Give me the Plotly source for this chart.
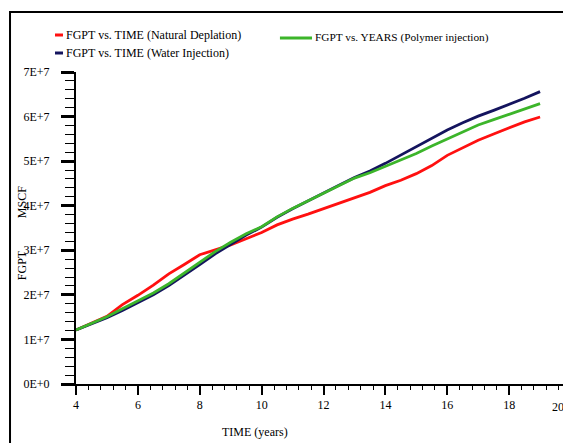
import plotly.graph_objects as go

# ---- data ----
time_years = [4.0, 4.5, 5.0, 5.5, 6.0, 6.5, 7.0, 7.5, 8.0, 8.5, 9.0, 9.5, 10.0, 10.5, 11.0, 11.5,
              12.0, 12.5, 13.0, 13.5, 14.0, 14.5, 15.0, 15.5, 16.0, 16.5, 17.0, 17.5, 18.0, 18.5, 19.0]

# FGPT in units of 1E+7 MSCF
fgpt_natural = [1.21, 1.36, 1.52, 1.78, 1.99, 2.22, 2.47, 2.68, 2.90, 3.01, 3.12, 3.26, 3.40, 3.57, 3.70, 3.81,
                3.93, 4.05, 4.18, 4.30, 4.45, 4.57, 4.72, 4.90, 5.13, 5.30, 5.47, 5.61, 5.75, 5.88, 5.99]
fgpt_water = [1.21, 1.35, 1.49, 1.65, 1.82, 2.00, 2.21, 2.44, 2.68, 2.92, 3.13, 3.34, 3.52, 3.74, 3.93, 4.11,
              4.29, 4.46, 4.63, 4.78, 4.95, 5.14, 5.33, 5.52, 5.70, 5.86, 6.01, 6.14, 6.27, 6.41, 6.56]
fgpt_polymer = [1.21, 1.36, 1.51, 1.69, 1.86, 2.04, 2.25, 2.49, 2.73, 2.97, 3.18, 3.37, 3.53, 3.75, 3.94, 4.11,
                4.29, 4.46, 4.62, 4.74, 4.88, 5.03, 5.17, 5.34, 5.50, 5.66, 5.81, 5.93, 6.05, 6.17, 6.29]

series_names = ["FGPT vs. TIME (Natural Deplation)",
                "FGPT vs. TIME (Water Injection)",
                "FGPT vs. YEARS (Polymer injection)"]

x_tick_vals = [4, 6, 8, 10, 12, 14, 16, 18, 20]
x_tick_text = ["4", "6", "8", "10", "12", "14", "16", "18", ""]
last_x_label = "20"
y_tick_vals = [0, 1e7, 2e7, 3e7, 4e7, 5e7, 6e7, 7e7]
y_tick_text = ["0E+0", "1E+7", "2E+7", "3E+7", "4E+7", "5E+7", "6E+7", "7E+7"]

RED = "#ff1010"
NAVY = "#14145e"
GREEN = "#3cb52a"
FONT = "Liberation Serif"

scale = 1e7
fig = go.Figure()
for vals, name, col in [(fgpt_natural, series_names[0], RED),
                        (fgpt_water, series_names[1], NAVY),
                        (fgpt_polymer, series_names[2], GREEN)]:
    fig.add_trace(go.Scatter(x=time_years, y=[v * scale for v in vals], mode="lines", name=name,
                             line=dict(color=col, width=2.8), showlegend=False))

# page body has an 8px margin: figure is 563x435 so it fills the 571x443 window exactly
fig.update_layout(
    width=563, height=435,
    margin=dict(l=68, r=0, t=64, b=59),
    paper_bgcolor="white", plot_bgcolor="white",
    font=dict(family=FONT, size=12, color="black"),
)
fig.update_xaxes(
    range=[4, 20], tickvals=x_tick_vals, ticktext=x_tick_text, ticks="outside", ticklen=9,
    tickwidth=2, tickcolor="black",
    minor=dict(dtick=0.4, ticks="outside", ticklen=4, tickwidth=1, tickcolor="black"),
    showline=True, linewidth=2, linecolor="black", showgrid=False, zeroline=False,
    tickfont=dict(family=FONT, size=12, color="black"),
)
fig.update_yaxes(
    range=[0, 7e7], tickvals=y_tick_vals, ticktext=y_tick_text, ticks="outside", ticklen=13,
    tickwidth=2.5, tickcolor="black",
    minor=dict(dtick=2e6, ticks="outside", ticklen=9, tickwidth=1.3, tickcolor="black"),
    showline=True, linewidth=2, linecolor="black", showgrid=False, zeroline=False,
    ticklabelstandoff=9,
    tickfont=dict(family=FONT, size=12, color="black"),
)

# last x tick label, pulled inside the picture edge
fig.add_annotation(text=last_x_label, xref="paper", yref="paper", x=0.99, y=-0.0737,
                   xanchor="right", yanchor="middle", showarrow=False,
                   font=dict(family=FONT, size=12, color="black"))

# outer frame (extends beyond the right and bottom of the picture)
fig.add_shape(type="rect", xref="paper", yref="paper", x0=-0.1333, x1=1.05, y0=-0.35, y1=1.1923,
              line=dict(color="black", width=2), fillcolor="rgba(0,0,0,0)", layer="below")

# legend built from short line samples and text
legend_items = [
    (series_names[0], RED, -0.0424, -0.0263, 1.1186, -0.0242, 12),
    (series_names[1], NAVY, -0.0424, -0.0263, 1.0609, -0.0242, 12),
    (series_names[2], GREEN, 0.412, 0.4768, 1.1090, 0.4788, 11.3),
]
for name, col, x0, x1, y, tx, fs in legend_items:
    fig.add_shape(type="line", xref="paper", yref="paper", x0=x0, x1=x1, y0=y, y1=y,
                  line=dict(color=col, width=3))
    fig.add_annotation(text=name, xref="paper", yref="paper", x=tx, y=y, xanchor="left",
                       yanchor="middle", showarrow=False, font=dict(family=FONT, size=fs, color="black"))

# axis titles
fig.add_annotation(text="TIME (years)", xref="paper", yref="paper", x=0.362, y=-0.154,
                   xanchor="center", yanchor="middle", showarrow=False,
                   font=dict(family=FONT, size=12, color="black"))
fig.add_annotation(text="FGPT", xref="paper", yref="paper", x=-0.109, y=0.381, textangle=-90,
                   xanchor="center", yanchor="middle", showarrow=False,
                   font=dict(family=FONT, size=12, color="black"))
fig.add_annotation(text="MSCF", xref="paper", yref="paper", x=-0.109, y=0.583, textangle=-90,
                   xanchor="center", yanchor="middle", showarrow=False,
                   font=dict(family=FONT, size=12, color="black"))

fig.write_html("out.html")
